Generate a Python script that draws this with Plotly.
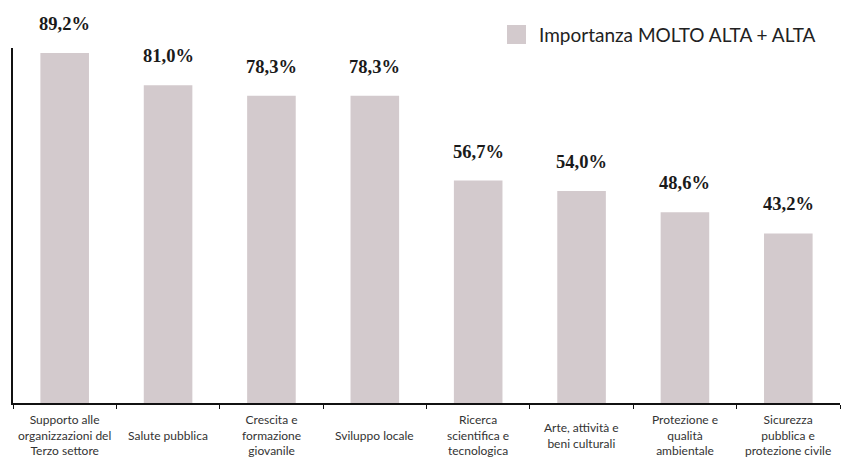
import plotly.graph_objects as go

categories = [
    "Supporto alle<br>organizzazioni del<br>Terzo settore",
    "Salute pubblica",
    "Crescita e<br>formazione<br>giovanile",
    "Sviluppo locale",
    "Ricerca<br>scientifica e<br>tecnologica",
    "Arte, attività e<br>beni culturali",
    "Protezione e<br>qualità<br>ambientale",
    "Sicurezza<br>pubblica e<br>protezione civile",
]
values = [89.2, 81.0, 78.3, 78.3, 56.7, 54.0, 48.6, 43.2]
series_name = "Importanza MOLTO ALTA + ALTA"

BAR_COLOR = "#D3CACD"
SERIF = "Liberation Serif, DejaVu Serif, serif"
SANS = "Lato, Open Sans, sans-serif"

fig = go.Figure()
fig.add_trace(go.Bar(
    x=categories,
    y=values,
    name=series_name,
    marker=dict(color=BAR_COLOR, line=dict(width=0)),
    width=0.47,
    showlegend=False,
    hoverinfo="skip",
))

# value labels above bars
for c, v in zip(categories, values):
    fig.add_annotation(
        x=c, y=v, xref="x", yref="y",
        text=f"<b>{v:.1f}%</b>".replace(".", ","),
        showarrow=False, yanchor="bottom", yshift=17,
        font=dict(family=SERIF, size=18.5, color="#1a1a1a"),
    )

# category labels, vertically centred below the axis
for c in categories:
    fig.add_annotation(
        x=c, y=0, xref="x", yref="paper",
        text=c, showarrow=False, yanchor="middle", yshift=-32,
        align="center", borderpad=0,
        font=dict(family=SANS, size=12, color="#333333"),
    )

# legend swatch and text
fig.add_shape(
    type="rect", xref="paper", yref="paper",
    x0=(507 - 13) / 827, x1=(526 - 13) / 827,
    y0=(403 - 44) / 355, y1=(403 - 25) / 355,
    fillcolor=BAR_COLOR, line=dict(width=0),
)
fig.add_annotation(
    x=(537 - 13) / 827, y=(403 - 34.5) / 355, xref="paper", yref="paper",
    text=series_name, showarrow=False, xanchor="left", yanchor="middle",
    font=dict(family=SANS, size=19, color="#222222"),
)

fig.update_xaxes(
    type="category",
    showline=True, linecolor="#111111", linewidth=1.5,
    ticks="outside", tickson="boundaries", ticklen=4, tickcolor="#111111", tickwidth=1,
    showticklabels=False, showgrid=False, zeroline=False,
    range=[-0.5, 7.5],
)
fig.update_yaxes(
    range=[0, 90.47],
    showline=True, linecolor="#111111", linewidth=2,
    showticklabels=False, ticks="", showgrid=False, zeroline=False,
)
fig.update_layout(
    width=842, height=460,
    margin=dict(l=13, r=2, t=48, b=57),
    plot_bgcolor="white", paper_bgcolor="white",
    bargap=0.53,
)

fig.write_html("out.html")
